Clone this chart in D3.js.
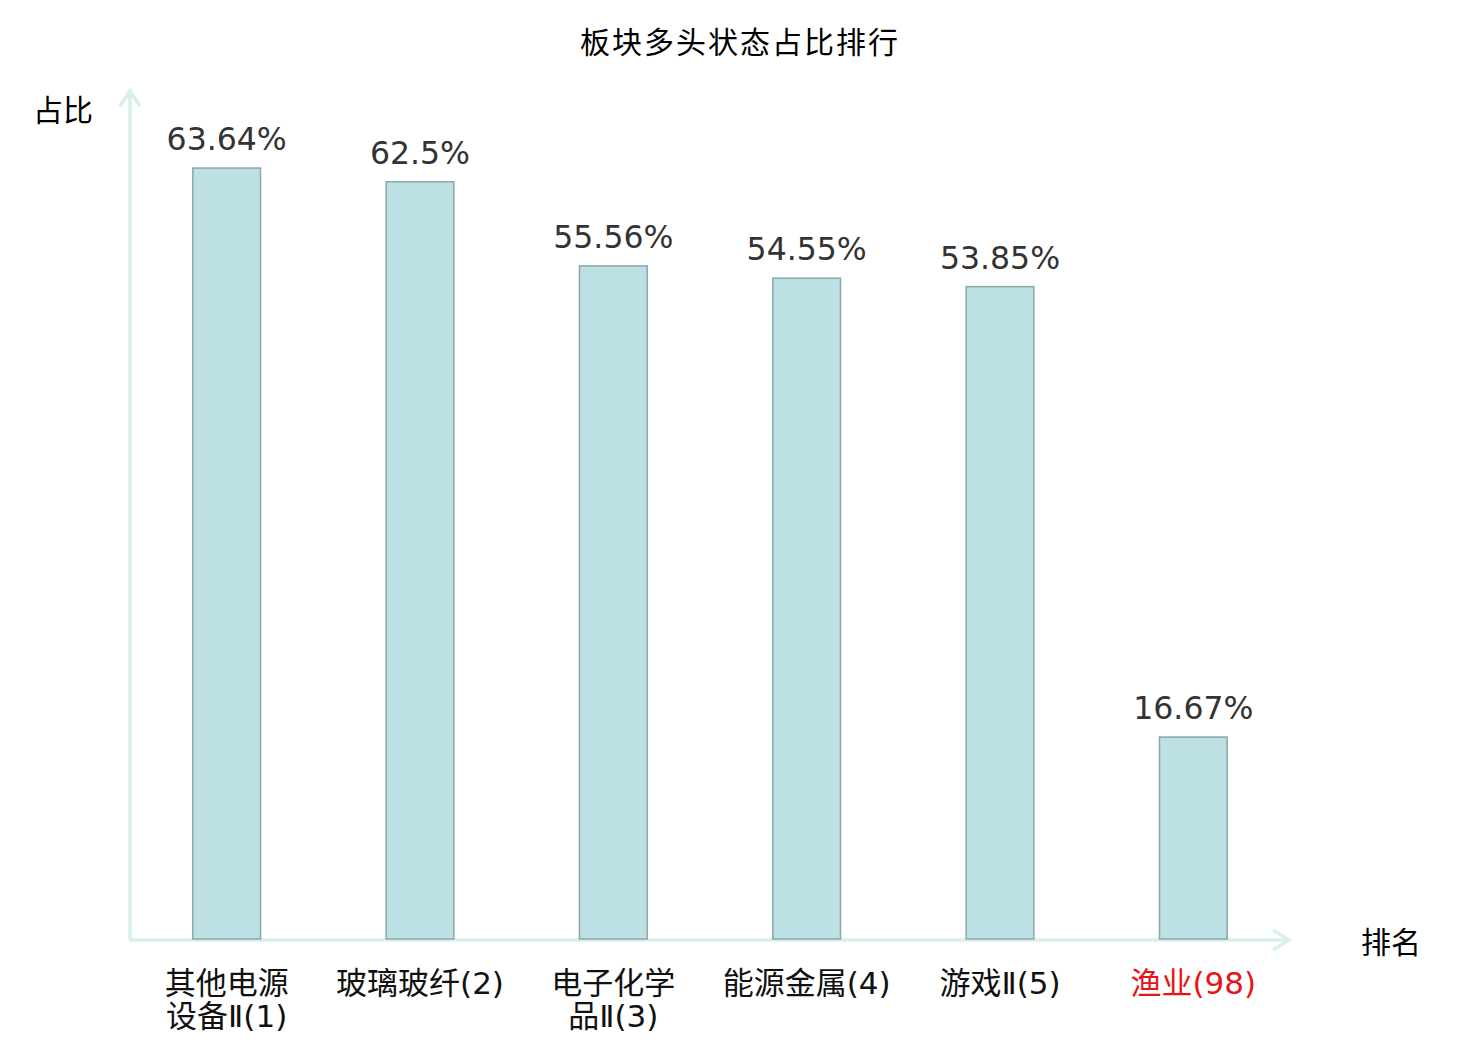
<!DOCTYPE html>
<html>
<head>
<meta charset="utf-8">
<script src="https://cdn.jsdelivr.net/npm/d3@7"></script>
<style>
  body { margin: 0; background: #fff; }
  text { font-family: "DejaVu Sans", "Noto Sans CJK SC", sans-serif; }
</style>
</head>
<body>
<div class="canvas"></div>
<script>
// chart data
const names = ['其他电源设备Ⅱ', '玻璃玻纤', '电子化学品Ⅱ', '能源金属', '游戏Ⅱ', '渔业']
const ranks = [1, 2, 3, 4, 5, 98]
const ratios = [63.64, 62.5, 55.56, 54.55, 53.85, 16.67]
const highlight = [false, false, false, false, false, true]

const svg = d3.select('.canvas')
  .append('svg')
  .attr('width', 1480)
  .attr('height', 1040)

const x = d3.scaleBand()
  .domain(names)
  .range([130, 1290])

const y = d3.scaleLinear()
  .domain([0, 70])
  .range([939, 91])

const barW = x.bandwidth() * 0.35
const axisCol = '#d9efec'

// title
svg.append('text')
  .attr('x', 740).attr('y', 53)
  .attr('text-anchor', 'middle')
  .attr('font-family', '"Noto Sans CJK SC", sans-serif')
  .style('font-size', '30px')
  .attr('letter-spacing', '2px')
  .text('板块多头状态占比排行')

// axes with arrow heads
svg.append('line')
  .attr('x1', 130).attr('y1', 940).attr('x2', 130).attr('y2', 90)
  .attr('stroke', axisCol).attr('stroke-width', 3.5)
svg.append('path')
  .attr('d', 'M120,106 L130,91 L140,106')
  .attr('fill', 'none').attr('stroke', axisCol).attr('stroke-width', 3.5)
svg.append('line')
  .attr('x1', 130).attr('y1', 940).attr('x2', 1289).attr('y2', 940)
  .attr('stroke', axisCol).attr('stroke-width', 3.5)
svg.append('path')
  .attr('d', 'M1273,930 L1289,940 L1273,950')
  .attr('fill', 'none').attr('stroke', axisCol).attr('stroke-width', 3.5)

svg.append('text')
  .attr('x', 63).attr('y', 121)
  .attr('text-anchor', 'middle')
  .attr('font-family', '"Noto Sans CJK SC", sans-serif')
  .style('font-size', '30px')
  .text('占比')
svg.append('text')
  .attr('x', 1391).attr('y', 953)
  .attr('text-anchor', 'middle')
  .attr('font-family', '"Noto Sans CJK SC", sans-serif')
  .style('font-size', '30px')
  .text('排名')

// bars
const bars = svg.selectAll('g.bar')
  .data(names.map((n, i) => ({ name: n, rank: ranks[i], value: ratios[i], hl: highlight[i] })))
  .enter()
  .append('g')
  .attr('class', 'bar')
  .attr('transform', d => `translate(${x(d.name) + x.bandwidth() / 2}, 0)`)

bars.append('rect')
  .attr('x', -barW / 2)
  .attr('width', barW)
  .attr('y', d => y(d.value))
  .attr('height', d => y(0) - y(d.value))
  .attr('fill', '#bce0e3')
  .attr('stroke', '#8aa8a9')
  .attr('stroke-width', 1.5)

bars.append('text')
  .attr('text-anchor', 'middle')
  .attr('y', d => y(d.value) - 18)
  .attr('fill', '#333')
  .style('font-size', '31.5px')
  .text(d => d.value + '%')

// category labels, long names wrap after 4 chars
const labels = bars.append('text')
  .attr('text-anchor', 'middle')
  .attr('fill', d => d.hl ? '#e8141b' : '#111')
  .attr('font-family', '"Noto Sans CJK SC", sans-serif')
  .style('font-size', '31px')

labels.each(function (d) {
  const full = d.name + '(' + d.rank + ')'
  const lines = d.name.length > 4 ? [full.slice(0, 4), full.slice(4)] : [full]
  d3.select(this).selectAll('tspan')
    .data(lines)
    .enter()
    .append('tspan')
    .attr('x', 0)
    .attr('y', (l, i) => 994 + i * 33)
    .text(l => l)
})
</script>
</body>
</html>
